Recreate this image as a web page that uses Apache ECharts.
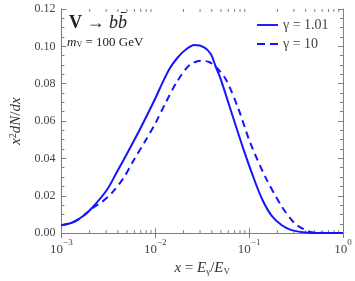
<!DOCTYPE html>
<html><head><meta charset="utf-8">
<script src="https://cdn.jsdelivr.net/npm/echarts@6/dist/echarts.min.js"></script>
<style>html,body{margin:0;padding:0;background:#fff}#c{width:355px;height:281px}</style>
</head><body><div id="c"></div>
<script>
// Data
const solidX = [0.001,0.00133,0.00169,0.00214,0.00306,0.00389,0.00493,0.00672,0.00853,0.01008,0.0122,0.0144,0.0170,0.0206,0.0261,0.0332,0.0392,0.0441,0.0497,0.0678,0.0859,0.109,0.138,0.176,0.223,0.283,0.424,1];
const solidY = [0.0042,0.0058,0.009,0.0137,0.0232,0.0326,0.042,0.0547,0.065,0.0725,0.0815,0.0885,0.0935,0.0978,0.1007,0.0995,0.0958,0.089,0.0826,0.0616,0.0458,0.031,0.018,0.0089,0.0042,0.0016,0.0002,0];
const dashX = [0.001,0.00133,0.00169,0.00214,0.00272,0.00345,0.00459,0.00597,0.00776,0.01008,0.0128,0.0170,0.0232,0.0309,0.0374,0.0441,0.0560,0.0763,0.1016,0.149,0.223,0.304,0.386,0.490,1];
const dashY = [0.0042,0.0058,0.009,0.0133,0.0168,0.0215,0.0295,0.0395,0.049,0.059,0.0695,0.081,0.090,0.0923,0.0916,0.089,0.0826,0.067,0.049,0.030,0.0142,0.0053,0.002,0.0003,0];
const seriesNames = ['γ = 1.01','γ = 10'];
const xMinorTicks = [];
[0.001,0.01,0.1].forEach(d=>{for(let k=2;k<=9;k++) xMinorTicks.push(d*k);});

const serif = 'Liberation Serif';
const frame = '#808080';
const lblColor = '#444';
const blue = '#1414ff';

const chart = echarts.init(document.getElementById('c'));
const xLabelFmt = v => {
  const e = Math.round(Math.log10(v));
  return '{b|10}{s|' + (e<0 ? '−'+(-e) : e) + '}';
};
const xRich = {b:{fontFamily:serif,fontSize:13,color:lblColor,verticalAlign:'bottom',lineHeight:18},
               s:{fontFamily:serif,fontSize:9,color:lblColor,verticalAlign:'top',lineHeight:18,padding:[0,0,6,0]}};
chart.setOption({
  animation:false,
  grid:{left:53,right:12,top:9,bottom:44},
  legend:{
    data:[{name:seriesNames[0],icon:'path://M0 0H22V2H0Z'},
          {name:seriesNames[1],icon:'path://M0 0H8V2H0Z M13 0H21V2H13Z'}],
    orient:'vertical', left:257, top:18, padding:0, itemWidth:21, itemHeight:2, itemGap:5,
    textStyle:{fontFamily:serif,fontSize:14,color:'#444',lineHeight:14}
  },
  xAxis:[{
    type:'log', logBase:10, min:0.001, max:1, position:'bottom',
    axisLine:{lineStyle:{color:frame,width:1}},
    axisTick:{inside:true,length:5,lineStyle:{color:frame}},
    splitLine:{show:false},
    axisLabel:{formatter:xLabelFmt, rich:xRich, margin:5},
    name:'{i|x} = {i|E}{sub|γ}/{i|E}{sub|V}', nameLocation:'middle', nameGap:22,
    nameTextStyle:{fontFamily:serif,fontSize:15,color:'#333',
      rich:{i:{fontFamily:serif,fontStyle:'italic',fontSize:15,color:'#333'},
            sub:{fontFamily:serif,fontSize:9,color:'#333',verticalAlign:'bottom',padding:[6,0,0,0]}}}
  },{
    type:'log', logBase:10, min:0.001, max:1, position:'top',
    axisLine:{lineStyle:{color:frame,width:1}},
    axisTick:{inside:true,length:5,lineStyle:{color:frame}},
    axisLabel:{show:false}, splitLine:{show:false}
  }],
  yAxis:[{
    type:'value', min:0, max:0.12, interval:0.02, position:'left',
    axisLine:{show:true,lineStyle:{color:frame,width:1}},
    axisTick:{show:true,inside:true,length:5,lineStyle:{color:frame}},
    minorTick:{show:true,splitNumber:4,length:3,lineStyle:{color:frame}},
    splitLine:{show:false},
    axisLabel:{fontFamily:serif,fontSize:12,color:lblColor,margin:6,formatter:v=>v.toFixed(2)},
    name:'{i|x}{sup|2}{i|dN}/{i|dx}', nameLocation:'middle', nameGap:31, nameRotate:90,
    nameTextStyle:{fontFamily:serif,fontSize:15,color:'#333',
      rich:{i:{fontFamily:serif,fontStyle:'italic',fontSize:15,color:'#333'},
            sup:{fontFamily:serif,fontSize:10,color:'#333',verticalAlign:'top',padding:[0,0,6,0]}}}
  },{
    type:'value', min:0, max:0.12, interval:0.02, position:'right',
    axisLine:{show:true,lineStyle:{color:frame,width:1}},
    axisTick:{show:true,inside:true,length:5,lineStyle:{color:frame}},
    minorTick:{show:true,splitNumber:4,length:3,lineStyle:{color:frame}},
    axisLabel:{show:false}, splitLine:{show:false}
  }],
  series:[{
    name:seriesNames[0], type:'line', smooth:0.3, symbol:'none', xAxisIndex:0, yAxisIndex:0,
    lineStyle:{color:blue,width:2,type:'solid'}, itemStyle:{color:blue},
    data:solidX.map((x,i)=>[x,solidY[i]])
  },{
    name:seriesNames[1], type:'line', smooth:0.3, symbol:'none', xAxisIndex:0, yAxisIndex:0,
    lineStyle:{color:blue,width:2,type:[7,5]}, itemStyle:{color:blue},
    data:dashX.map((x,i)=>[x,dashY[i]])
  },{
    type:'custom', xAxisIndex:0, yAxisIndex:0, silent:true, clip:false,
    data:xMinorTicks.map(v=>[v]),
    renderItem:(params,api)=>{
      const b = api.coord([api.value(0),0]);
      const t = api.coord([api.value(0),0.12]);
      return {type:'group',children:[
        {type:'line',shape:{x1:b[0],y1:b[1],x2:b[0],y2:b[1]-3},style:{stroke:frame,lineWidth:1}},
        {type:'line',shape:{x1:t[0],y1:t[1],x2:t[0],y2:t[1]+3},style:{stroke:frame,lineWidth:1}}
      ]};
    }
  }],
  graphic:[{
    type:'text', left:69, top:14,
    style:{text:'{bv|V} → {i|b}{i|b̄}', rich:{
      bv:{fontFamily:serif,fontWeight:'bold',fontSize:18,fill:'#222'},
      i:{fontFamily:serif,fontStyle:'italic',fontSize:18,fill:'#222'}},
      fontFamily:serif,fontSize:18,fill:'#222'}
  },{
    type:'text', left:67, top:36,
    style:{text:'{i|m}{s|V} = 100 GeV', rich:{
      i:{fontFamily:serif,fontStyle:'italic',fontSize:13,fill:'#222'},
      s:{fontFamily:serif,fontSize:8,fill:'#222',verticalAlign:'bottom',padding:[5,0,0,0]}},
      fontFamily:serif,fontSize:13,fill:'#222'}
  }]
});
</script></body></html>
